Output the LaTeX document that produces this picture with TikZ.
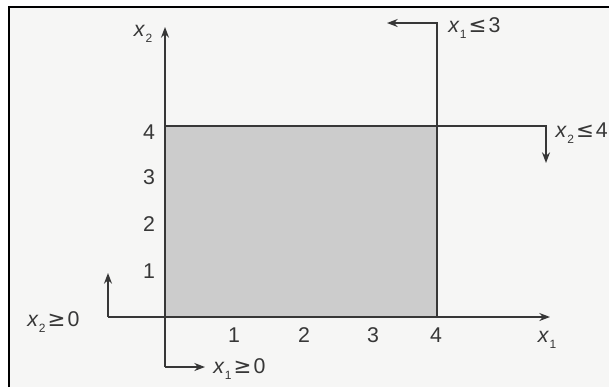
\documentclass[tikz,border=0pt]{standalone}
\usepackage{fontspec}
\setmainfont{Liberation Sans}
\newfontfamily\symf{DejaVu Sans}
\usetikzlibrary{arrows.meta}
\definecolor{bgc}{RGB}{246,246,245}
\definecolor{regionc}{RGB}{204,204,204}
\definecolor{ink}{RGB}{55,55,55}
\newcommand{\vx}[1]{\textit{x}\kern0.3pt\raisebox{-0.5ex}{\fontsize{9}{10}\selectfont #1}}
\newcommand{\rel}[1]{\kern1.5pt{\symf #1}\kern1.5pt}
\begin{document}
\begin{tikzpicture}[x=0.75pt,y=-0.75pt,
  ln/.style={draw=ink,line width=1.1pt},
  arr/.style={ln,-{Stealth[length=8pt,width=6pt]}},
  lbl/.style={inner sep=0pt,text=ink,font=\fontsize{16}{19}\selectfont},
  tick/.style={lbl}]
\useasboundingbox (0,0) rectangle (609,387);
\fill[white] (0,0) rectangle (609,387);
\fill[bgc] (9,7) rectangle (609,387);
\draw[black,line width=1.6pt] (9,387) -- (9,7) -- (609,7);
% coordinates
\coordinate (O) at (165,317);
\coordinate (Ytop) at (165,27);
\coordinate (Ybot) at (165,367);
\coordinate (Xge) at (205,367);
\coordinate (Xleft) at (108,317);
\coordinate (Xup) at (108,273);
\coordinate (Xright) at (550,317);
\coordinate (Vbot) at (437,317);
\coordinate (Vtop) at (437,23);
\coordinate (Vend) at (387,23);
\coordinate (Hleft) at (165,126);
\coordinate (Hright) at (546,126);
\coordinate (Hend) at (546,163);
% feasible region
\fill[regionc] (Hleft) rectangle (Vbot);
% lines
\draw[arr] (Ybot) -- (Ytop);
\draw[arr] (Ybot) -- (Xge);
\draw[arr] (Xleft) -- (Xright);
\draw[arr] (Xleft) -- (Xup);
\draw[arr] (Vbot) -- (Vtop) -- (Vend);
\draw[arr] (Hleft) -- (Hright) -- (Hend);
% labels
\node[lbl] (lx2) at (143,34) {\vx{2}};
\node[lbl] (lx1) at (547,340) {\vx{1}};
\node[tick] (y4) at (149,132) {4};
\node[tick] (y3) at (149,177) {3};
\node[tick] (y2) at (149,224) {2};
\node[tick] (y1) at (149,271) {1};
\node[tick] (t1) at (234,335) {1};
\node[tick] (t2) at (304,335) {2};
\node[tick] (t3) at (373,335) {3};
\node[tick] (t4) at (436,335) {4};
\node[lbl,anchor=west] (c1) at (27,322) {\vx{2}\rel{≥}0};
\node[lbl,anchor=west] (c2) at (213,369) {\vx{1}\rel{≥}0};
\node[lbl,anchor=west] (c3) at (448,28) {\vx{1}\rel{≤}3};
\node[lbl,anchor=east] (c4) at (608,133) {\vx{2}\rel{≤}4};
\end{tikzpicture}
\end{document}
